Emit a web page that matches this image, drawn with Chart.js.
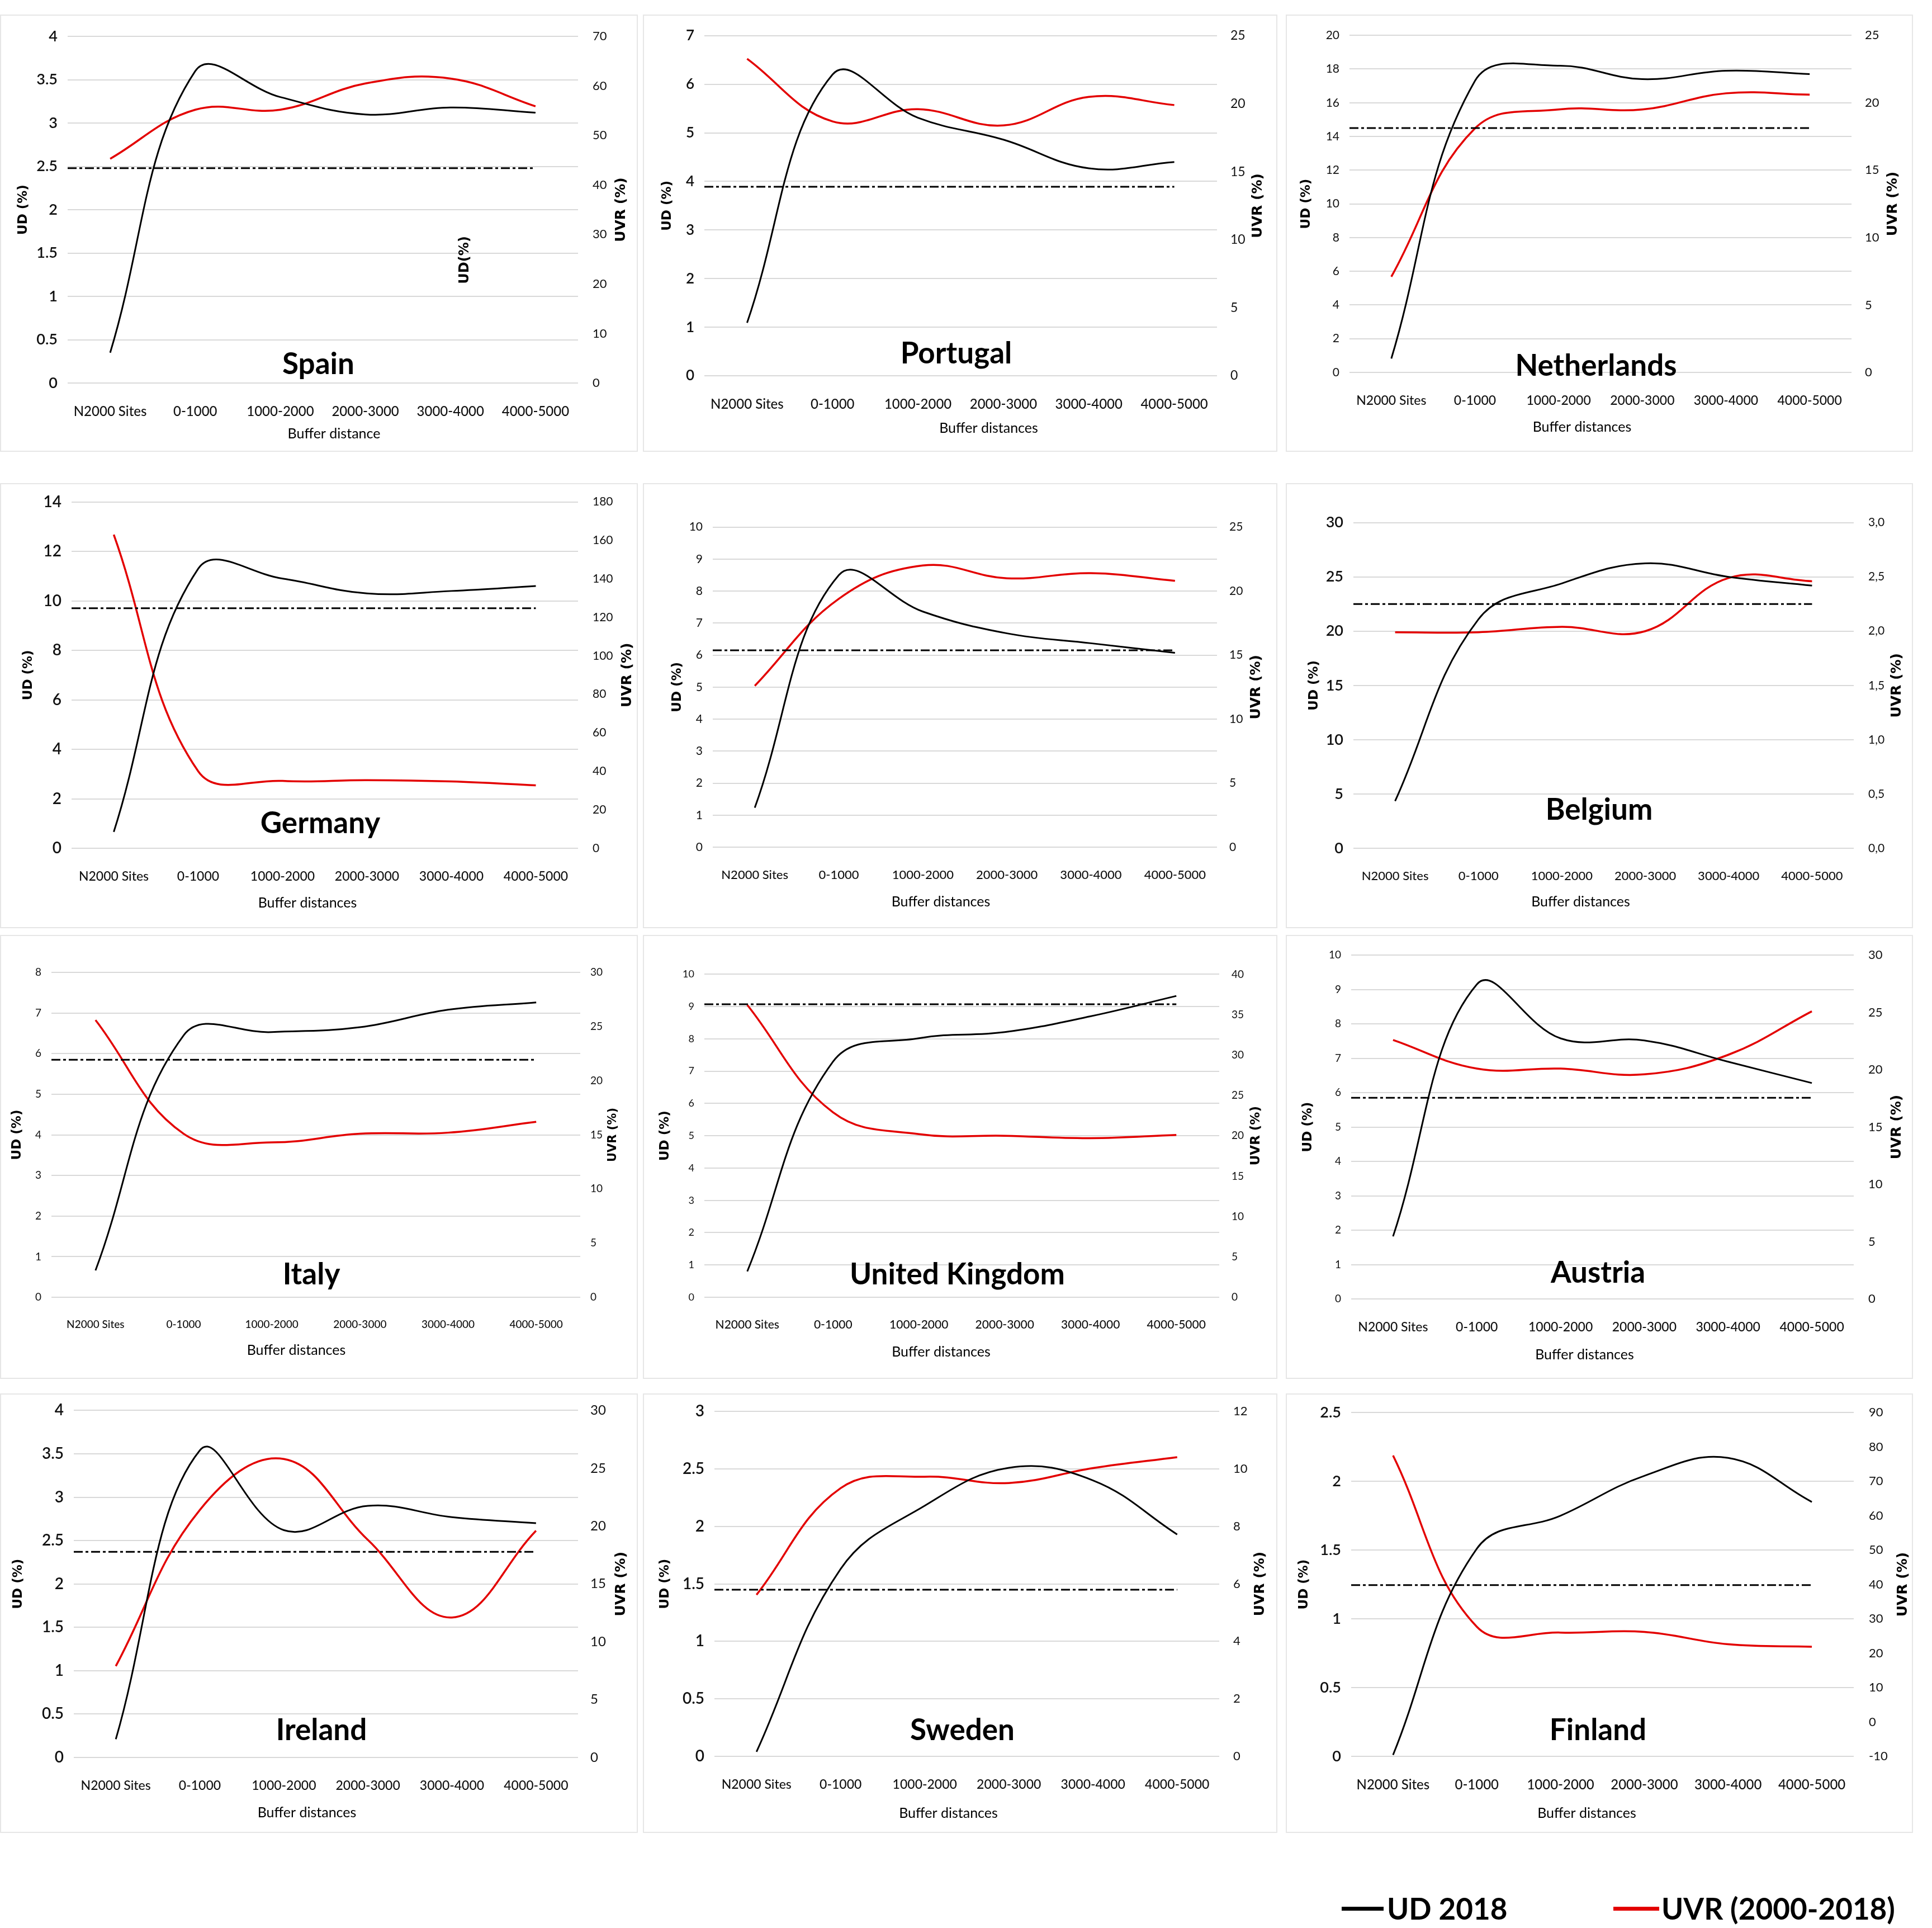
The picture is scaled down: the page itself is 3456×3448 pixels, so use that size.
<!DOCTYPE html>
<html>
<head>
<meta charset="utf-8">
<title>UD and UVR by buffer distance</title>
<script src="https://cdn.jsdelivr.net/npm/chart.js@4.4.1/dist/chart.umd.min.js"></script>
<style>
  body { margin: 0; background: #fff; }
  #page { position: relative; width: 3456px; height: 3448px; overflow: hidden; background: #fff; }
  .cell { position: absolute; border: 2px solid #e6e6e6; box-sizing: border-box; }
  canvas { position: absolute; }
  .key { position: absolute; font: bold 53px Lato, sans-serif; line-height: 1; color: #000; }
  .swatch { position: absolute; height: 7px; }
</style>
</head>
<body>
<div id="page"></div>
<script>
// ---- data ----
const categories = ['N2000 Sites', '0-1000', '1000-2000', '2000-3000', '3000-4000', '4000-5000'];
const countries = ['Spain', 'Portugal', 'Netherlands', 'Germany', '', 'Belgium',
                   'Italy', 'United Kingdom', 'Austria', 'Ireland', 'Sweden', 'Finland'];

// UD 2018 (%), left axis
const udSeries = [
  [0.35, 3.6, 3.3, 3.1, 3.18, 3.12],     // Spain
  [1.09, 6.2, 5.31, 4.86, 4.27, 4.4],    // Portugal
  [0.82, 17.3, 18.2, 17.4, 17.9, 17.7],  // Netherlands
  [0.66, 11.3, 10.9, 10.3, 10.4, 10.6],  // Germany
  [1.23, 8.5, 7.36, 6.68, 6.37, 6.07],   // (no title)
  [4.35, 21.1, 24.4, 26.25, 25.0, 24.2], // Belgium
  [0.66, 6.45, 6.53, 6.65, 7.08, 7.26],  // Italy
  [0.8, 7.3, 8.02, 8.21, 8.7, 9.33],     // United Kingdom
  [1.82, 9.15, 7.58, 7.52, 6.9, 6.28],   // Austria
  [0.21, 3.54, 2.62, 2.9, 2.77, 2.7],    // Ireland
  [0.04, 1.63, 2.18, 2.51, 2.4, 1.93],   // Sweden
  [0.01, 1.51, 1.75, 2.04, 2.17, 1.85]   // Finland
];

// UVR 2000-2018 (%), right axis
const uvrSeries = [
  [45.3, 55.2, 55.2, 60.5, 61.5, 55.9],
  [23.3, 18.7, 19.6, 18.4, 20.5, 19.9],
  [7.1, 18.1, 19.5, 19.5, 20.7, 20.6],
  [163, 40, 35, 35.4, 34.7, 32.7],
  [12.6, 19.4, 22.0, 21.0, 21.4, 20.8],
  [1.99, 1.99, 2.04, 2.0, 2.49, 2.46],
  [25.6, 15.1, 14.3, 15.1, 15.2, 16.2],
  [36.2, 22.9, 20.2, 20.0, 19.7, 20.1],
  [22.6, 20.1, 20.1, 19.6, 21.3, 25.1],
  [7.9, 21.4, 25.8, 18.8, 12.1, 19.6],
  [5.62, 9.33, 9.73, 9.51, 10.03, 10.41],
  [77.5, 27.7, 26.0, 26.2, 22.6, 21.9]
];

// dash-dot reference level of UD (left axis)
const udReference = [2.48, 3.89, 14.5, 9.7, 6.15, 22.5, 5.85, 9.07, 5.85, 2.37, 1.45, 1.245];

// axis ranges [min, max, step]
const udTicks = [[0, 4, 0.5], [0, 7, 1], [0, 20, 2], [0, 14, 2], [0, 10, 1], [0, 30, 5],
                 [0, 8, 1], [0, 10, 1], [0, 10, 1], [0, 4, 0.5], [0, 3, 0.5], [0, 2.5, 0.5]];
const uvrTicks = [[0, 70, 10], [0, 25, 5], [0, 25, 5], [0, 180, 20], [0, 25, 5], [0, 3, 0.5],
                  [0, 30, 5], [0, 40, 5], [0, 30, 5], [0, 30, 5], [0, 12, 2], [-10, 90, 10]];
const xTitles = ['Buffer distance'].concat(Array(11).fill('Buffer distances'));

// ---- layout (page pixels) ----
// chart area of each panel: left, top, right, bottom
const plotBoxes = [
  [121, 56, 1034, 685], [1260, 56, 2177, 672], [2414, 56, 3312, 666],
  [128, 889, 1034, 1517], [1275, 938, 2177, 1515], [2421, 926, 3316, 1517],
  [92, 1739, 1038, 2320], [1260, 1739, 2181, 2320], [2417, 1699, 3316, 2323],
  [132, 2516, 1034, 3143], [1278, 2516, 2181, 3141], [2417, 2516, 3316, 3141]
];
const titleLift = [33, 39, 11, 44, 0, 68, 40, 40, 46, 48, 46, 46];
const leftTitleGap = [79, 66, 77, 77, 63, 70, 61, 70, 77, 99, 88, 84];
const rightTitleGap = [77, 73, 74, 88, 70, 77, 59, 66, 77, 77, 73, 88];
const rightTickGap = [26, 24, 24, 26, 22, 26, 18, 22, 26, 22, 25, 27];
const xTitleShift = [20, 50, -33, -31, -43, -41, -35, -37, -32, -34, -33, -28];
const xTitleDrop = [91, 94, 98, 98, 98, 96, 95, 98, 100, 99, 102, 102];
const leftTickSize = [27, 26, 21, 28, 21, 27, 19, 18, 19, 28, 28, 27];
const leftTickWeight = [600, 600, 400, 600, 400, 600, 400, 400, 400, 600, 600, 600];
const rightTickSize = [22, 23, 22, 21, 21, 21, 19, 19, 22, 24, 22, 22];
const catTickSize = [24, 24, 23, 23, 22, 22, 19, 21, 23, 23, 23, 24];
const rightTitleSize = [25, 25, 25, 25, 25, 25, 21, 23, 25, 25, 25, 25];
const cellCols = [[0, 1141], [1150, 2285], [2300, 3422]];
const cellRows = [[26, 808], [864, 1660], [1672, 2466], [2492, 3278]];
const leftBand = 120, rightBand = 100, topBand = 30, bottomBand = 115;

const page = document.getElementById('page');

cellRows.forEach(([t, b]) => cellCols.forEach(([l, r]) => {
  const d = document.createElement('div');
  d.className = 'cell';
  Object.assign(d.style, { left: l + 'px', top: t + 'px', width: (r - l) + 'px', height: (b - t) + 'px' });
  page.appendChild(d);
}));

const fmt = v => String(+v.toFixed(2));
const fmtComma = v => (+v).toFixed(1).replace('.', ',');

function rotatedText(ctx, text, x, y, font) {
  ctx.save();
  ctx.translate(x, y);
  ctx.rotate(-Math.PI / 2);
  ctx.font = font;
  ctx.fillText(text, 0, 0);
  ctx.restore();
}

// country name, axis titles and the stray label, placed from the chart area
const panelText = {
  id: 'panelText',
  afterDraw(chart, args, o) {
    const { ctx, chartArea: a } = chart;
    const midX = (a.left + a.right) / 2, midY = (a.top + a.bottom) / 2;
    ctx.save();
    ctx.fillStyle = '#000';
    ctx.textAlign = 'center';
    ctx.textBaseline = 'middle';
    if (o.title) {
      ctx.font = 'bold 53px Lato, sans-serif';
      ctx.fillText(o.title, midX - 8, a.bottom - o.lift);
    }
    ctx.font = '25px Lato, sans-serif';
    ctx.fillText(o.xTitle, midX + o.xShift, a.bottom + o.xDrop);
    rotatedText(ctx, 'UD (%)', a.left - o.leftGap, midY, 'bold 23px "DejaVu Sans", sans-serif');
    rotatedText(ctx, 'UVR (%)', a.right + o.rightGap, midY, 'bold ' + o.rightSize + 'px "DejaVu Sans", sans-serif');
    if (o.note) {
      const x = chart.scales.x.getPixelForValue(o.note.x);
      const y = chart.scales.y.getPixelForValue(o.note.y);
      rotatedText(ctx, o.note.text, x, y, 'bold 24px "DejaVu Sans", sans-serif');
    }
    ctx.restore();
  }
};

function drawPanel(i) {
  const [L, T, R, B] = plotBoxes[i];
  const w = R - L + leftBand + rightBand, h = B - T + topBand + bottomBand;
  const canvas = document.createElement('canvas');
  canvas.width = w;
  canvas.height = h;
  Object.assign(canvas.style, { left: (L - leftBand) + 'px', top: (T - topBand) + 'px', width: w + 'px', height: h + 'px' });
  page.appendChild(canvas);

  const [udMin, udMax, udStep] = udTicks[i];
  const [uvMin, uvMax, uvStep] = uvrTicks[i];
  const toPoints = arr => arr.map((v, k) => ({ x: k, y: v }));

  new Chart(canvas, {
    type: 'line',
    data: {
      datasets: [
        {
          label: 'UD reference',
          data: [{ x: -0.5, y: udReference[i] }, { x: categories.length - 1, y: udReference[i] }],
          yAxisID: 'y',
          borderColor: '#000',
          borderWidth: 3,
          borderDash: [16, 5, 5, 5],
          pointRadius: 0,
          tension: 0
        },
        {
          label: 'UD 2018',
          data: toPoints(udSeries[i]),
          yAxisID: 'y',
          borderColor: '#000',
          borderWidth: 3,
          pointRadius: 0,
          tension: 0.4
        },
        {
          label: 'UVR (2000-2018)',
          data: toPoints(uvrSeries[i]),
          yAxisID: 'y1',
          borderColor: '#e30000',
          borderWidth: 3.5,
          pointRadius: 0,
          tension: 0.4
        }
      ]
    },
    options: {
      responsive: false,
      animation: false,
      layout: { padding: { top: topBand, left: 0, right: 0, bottom: 0 } },
      plugins: {
        legend: { display: false },
        tooltip: { enabled: false },
        panelText: {
          title: countries[i],
          lift: titleLift[i],
          xTitle: xTitles[i],
          xShift: xTitleShift[i],
          xDrop: xTitleDrop[i],
          leftGap: leftTitleGap[i],
          rightGap: rightTitleGap[i],
          rightSize: rightTitleSize[i],
          note: i === 0 ? { text: 'UD(%)', x: 4.17, y: 1.42 } : null
        }
      },
      scales: {
        x: {
          type: 'linear',
          min: -0.5,
          max: categories.length - 0.5,
          afterBuildTicks: s => { s.ticks = categories.map((c, k) => ({ value: k })); },
          afterFit: s => { s.height = bottomBand; },
          grid: { display: false },
          border: { display: false },
          ticks: {
            autoSkip: false,
            maxRotation: 0,
            padding: 29,
            color: '#111',
            font: { family: 'Lato', size: catTickSize[i], weight: 500 },
            callback: v => categories[v]
          }
        },
        y: {
          position: 'left',
          min: udMin,
          max: udMax,
          afterFit: s => { s.width = leftBand; },
          grid: { color: '#d9d9d9', lineWidth: 2, drawTicks: false },
          border: { display: false },
          ticks: {
            stepSize: udStep,
            padding: 18,
            color: '#111',
            font: { family: 'Lato', size: leftTickSize[i], weight: leftTickWeight[i] },
            callback: fmt
          }
        },
        y1: {
          position: 'right',
          min: uvMin,
          max: uvMax,
          afterFit: s => { s.width = rightBand; },
          grid: { display: false, drawTicks: false },
          border: { display: false },
          ticks: {
            stepSize: uvStep,
            padding: rightTickGap[i],
            color: '#111',
            font: { family: 'Lato', size: rightTickSize[i] },
            callback: i === 5 ? fmtComma : fmt
          }
        }
      }
    },
    plugins: [panelText]
  });
}

countries.forEach((c, i) => drawPanel(i));

// shared legend
[['UD 2018', '#000', 2400, 75, 2481], ['UVR (2000-2018)', '#e30000', 2886, 82, 2972]].forEach(([text, color, x, len, tx]) => {
  const sw = document.createElement('div');
  sw.className = 'swatch';
  Object.assign(sw.style, { left: x + 'px', top: '3410px', width: len + 'px', background: color });
  page.appendChild(sw);
  const k = document.createElement('div');
  k.className = 'key';
  k.textContent = text;
  Object.assign(k.style, { left: tx + 'px', top: '3386px' });
  page.appendChild(k);
});
</script>
</body>
</html>
